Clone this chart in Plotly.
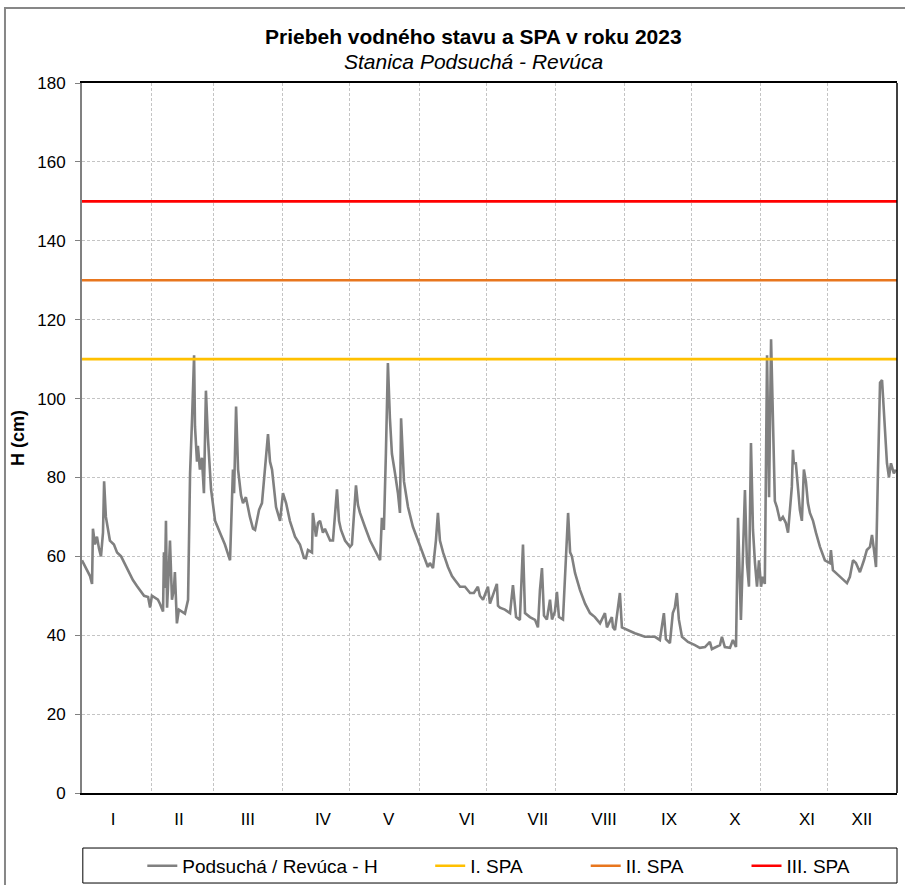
import pandas as pd
import plotly.graph_objects as go

# ---- data ----
days = [0.0, 1.8, 3.6, 4.5, 4.9, 5.8, 6.7, 7.6, 8.5, 9.4, 9.9, 10.7, 12.5, 14.3, 15.7, 17.5, 19.3, 21.0, 22.8, 24.6,
        26.0, 27.8, 29.6, 30.5, 31.3, 32.7, 34.0, 34.9, 36.3, 36.7, 37.1, 37.6, 38.1, 38.9, 39.4, 40.3, 41.2, 41.6, 42.5, 43.4,
        44.8, 46.1, 47.5, 48.4, 49.3, 50.2, 50.6, 51.5, 51.9, 52.8, 53.7, 54.6, 55.5, 56.4, 57.8, 59.6, 61.8, 64.0, 66.3, 67.6,
        68.1, 69.0, 69.9, 71.2, 72.1, 73.4, 75.2, 76.6, 77.5, 79.3, 80.6, 81.9, 83.3, 84.2, 85.1, 86.9, 88.7, 90.0, 91.4, 93.1,
        95.4, 97.6, 99.4, 100.3, 101.2, 103.0, 103.4, 104.8, 105.7, 106.6, 107.9, 108.8, 110.2, 111.1, 112.4, 113.7, 114.2, 115.1, 116.0, 117.8,
        120.0, 120.9, 122.7, 123.6, 124.5, 126.7, 129.0, 131.7, 133.5, 134.3, 135.2, 136.1, 137.0, 137.9, 138.8, 140.2, 141.5, 142.4, 142.9, 144.2,
        146.0, 148.2, 150.5, 152.7, 154.9, 155.8, 157.2, 158.5, 159.4, 160.3, 161.7, 163.9, 165.7, 167.0, 169.3, 171.5, 173.8, 175.5, 177.3, 178.2,
        179.6, 181.8, 182.7, 185.8, 186.3, 187.2, 189.4, 191.7, 193.0, 194.4, 196.1, 197.5, 198.4, 200.6, 202.9, 204.2, 205.1, 206.0, 206.9, 208.2,
        209.6, 210.5, 211.8, 212.7, 213.6, 215.4, 216.3, 216.8, 217.7, 218.6, 219.4, 220.8, 223.0, 225.3, 227.5, 229.7, 232.0, 234.2, 235.1, 237.3,
        237.8, 238.7, 240.9, 241.8, 244.5, 247.6, 252.1, 256.6, 258.8, 260.6, 261.5, 263.3, 264.6, 265.5, 266.4, 267.3, 268.7, 271.4, 274.5, 276.7,
        279.0, 281.2, 282.1, 283.4, 285.7, 286.6, 287.9, 290.2, 291.5, 292.9, 293.8, 295.1, 296.9, 297.8, 298.7, 299.6, 300.5, 301.4, 302.3, 303.2,
        304.1, 304.9, 305.8, 306.8, 307.7, 308.6, 309.4, 310.3, 311.2, 312.6, 313.9, 315.2, 316.2, 317.0, 317.9, 318.4, 318.8, 319.7, 320.6, 321.5,
        322.4, 323.3, 324.2, 325.1, 326.0, 327.4, 328.7, 330.5, 332.7, 335.0, 335.4, 336.3, 338.6, 340.8, 342.6, 343.9, 345.3, 346.6, 348.4, 350.2,
        351.5, 352.9, 353.8, 354.7, 355.6, 356.5, 357.4, 358.3, 359.2, 360.5, 361.4, 362.3, 363.6, 364.5]
level_cm = [59, 57, 55, 53, 67, 63, 65, 62, 60, 66, 79, 70, 64, 63, 61, 60, 58, 56, 54, 52.5,
            51.5, 50, 49.7, 47, 50, 49.5, 49, 48, 46, 61, 52, 69, 47, 57, 64, 49, 52, 56, 43, 46.5,
            46, 45.5, 49, 81, 95, 111, 93, 84, 88, 82, 85, 76, 102, 90, 77, 69, 66, 63, 59, 82,
            76, 98, 82, 75.5, 73.5, 75, 70, 67, 66.7, 71.8, 73.5, 81, 91, 84, 82, 72.5, 69, 76, 73.5, 69,
            65, 63, 59.6, 59.5, 61.6, 61, 71, 65, 68.5, 69, 66, 67, 65, 64, 64, 73, 77, 69, 66.7, 64,
            62.4, 63, 78, 73, 71, 67.5, 64, 61, 59, 69.8, 66.7, 86, 109, 95, 86, 81, 76, 71, 95, 79,
            72.5, 67.5, 64, 61, 57.3, 58.3, 57, 64, 71, 64, 61, 57.3, 55, 54, 52.3, 52.3, 50.7, 50.7, 52.3, 50,
            49, 52.3, 48, 53, 47.5, 47, 46.5, 45.6, 52.7, 44.6, 43.9, 63, 45.6, 44.6, 43.9, 42, 51.5, 57, 45, 44,
            49, 44, 46, 51, 44.6, 44, 54.8, 60, 71, 61, 60, 55.8, 51.5, 48, 45.6, 44.6, 43, 45.6, 42, 44.6,
            42, 41.3, 50.7, 42, 41.3, 40.5, 39.6, 39.6, 38.8, 45.6, 39, 38, 45.6, 47, 50.7, 44, 39.6, 38.3, 37.5, 36.8,
            37, 38.3, 36.5, 36.8, 37.5, 39.6, 37, 36.8, 38.8, 37, 69.8, 43.9, 76.8, 58.3, 52.3, 88.7, 66.7, 58.3, 52.3, 59,
            52.3, 54.8, 53, 111, 75, 115, 96, 74, 72.5, 69, 70, 68.5, 66, 72.5, 77.6, 87, 83.6, 83.6, 76.8, 71.8,
            69, 82, 79, 73.5, 71, 69, 66, 62.4, 59, 58.3, 61.6, 56.5, 55.3, 54, 53.2, 54.8, 59, 58.3, 56, 59,
            61.6, 62.4, 65.4, 61.6, 57.3, 82, 104, 104.7, 96, 83.6, 80, 83.6, 81, 82]

spa_names = ["I. SPA", "II. SPA", "III. SPA"]
spa_levels = [110, 130, 150]
spa_colors = ["#FFC000", "#E8761E", "#FF0000"]

month_labels = ["I", "II", "III", "IV", "V", "VI", "VII", "VIII", "IX", "X", "XI", "XII"]
month_label_days = [13.9, 43.4, 74.3, 107.9, 137.3, 172.4, 204.2, 233.8, 262.9, 292.4, 324.7, 349.3]

year_start = pd.Timestamp("2023-01-01")
year_end = pd.Timestamp("2024-01-01")
dates = year_start + pd.to_timedelta(days, unit="D")
tick_dates = year_start + pd.to_timedelta(month_label_days, unit="D")

FONT = "Liberation Sans, Arial, sans-serif"
NB = "\u00a0"

fig = go.Figure()
fig.add_trace(go.Scatter(
    x=dates, y=level_cm, mode="lines",
    name="Podsuchá / Revúca - H" + NB * 9,
    line=dict(color="#808080", width=2.6),
))
pads = [11, 11, 0]
for name, lvl, col, p in zip(spa_names, spa_levels, spa_colors, pads):
    fig.add_trace(go.Scatter(
        x=[year_start, year_end], y=[lvl, lvl], mode="lines",
        name=name + NB * p, line=dict(color=col, width=2.6),
    ))

grid_col = "#C4C4C4"
grid_dash = "3px,2px"
fig.update_layout(
    width=905, height=885,
    margin=dict(l=82, r=8, t=83, b=92, autoexpand=False),
    paper_bgcolor="white", plot_bgcolor="white",
    font=dict(family=FONT, size=17, color="black"),
    showlegend=True,
    legend=dict(orientation="h", x=0.074, xanchor="left", y=-0.076, yanchor="top",
                bgcolor="rgba(0,0,0,0)", borderwidth=0, font=dict(size=19),
                itemwidth=30),
    xaxis=dict(
        type="date", range=[year_start, year_end], automargin=False,
        tickmode="array", tickvals=tick_dates, ticktext=month_labels,
        ticks="", showgrid=False, ticklabelstandoff=10,
        showline=True, linecolor="black", linewidth=1.5, mirror=True,
        minor=dict(tickmode="linear", tick0="2023-01-01", dtick="M1",
                   showgrid=True, gridcolor=grid_col, griddash=grid_dash, gridwidth=1, ticks=""),
        zeroline=False,
    ),
    yaxis=dict(
        range=[0, 180], dtick=20, tick0=0, automargin=False,
        showgrid=True, gridcolor=grid_col, griddash=grid_dash, gridwidth=1,
        ticks="outside", ticklen=5, tickcolor="#808080", ticklabelstandoff=6,
        showline=True, linecolor="#808080", linewidth=2, mirror=False,
        zeroline=False,
        title=dict(text="<b>H (cm)</b>", font=dict(size=18), standoff=8),
    ),
    annotations=[
        dict(text="<b>Priebeh vodného stavu a SPA v roku 2023</b>", x=0.4798, y=1.0648,
             xref="paper", yref="paper", xanchor="center", yanchor="middle",
             showarrow=False, font=dict(size=21)),
        dict(text="<i>Stanica Podsuchá - Revúca</i>", x=0.4798, y=1.0296,
             xref="paper", yref="paper", xanchor="center", yanchor="middle",
             showarrow=False, font=dict(size=21)),
    ],
    shapes=[
        # right border of plot area
        dict(type="line", xref="paper", yref="paper", x0=1, x1=1, y0=0, y1=1,
             line=dict(color="black", width=1.5)),
        # legend frame
        dict(type="rect", xref="paper", yref="paper", x0=0.001, x1=1.0, y0=-0.0775, y1=-0.1268,
             line=dict(color="black", width=1), fillcolor="rgba(0,0,0,0)"),
        # outer chart frame
        dict(type="rect", xref="paper", yref="paper", x0=-0.0945, x1=1.03, y0=-0.15, y1=1.1056,
             line=dict(color="#878787", width=2), fillcolor="rgba(0,0,0,0)"),
    ],
)

fig.write_html("out.html", config={"displayModeBar": False},
               post_script="document.body.style.margin='0';document.body.style.overflow='hidden';")
